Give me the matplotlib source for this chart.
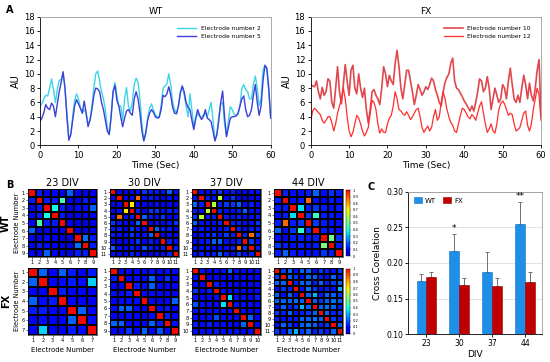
import matplotlib.pyplot as plt
import numpy as np
from matplotlib.colors import ListedColormap

# ---- panel A: electrode traces, sampled every 0.5 s ----
time = np.arange(0, 60.5, 0.5)
wt_e2 = [5.5, 5.8, 6.5, 7.0, 6.9, 8.0, 9.3, 7.8, 6.0, 7.8,
         9.1, 9.2, 10.1, 8.0, 4.5, 0.9, 1.5, 4.0, 6.3, 7.2,
         6.5, 5.3, 4.5, 5.0, 4.5, 3.0, 3.5, 5.5, 8.0, 10.0,
         10.4, 9.0, 7.5, 6.5, 5.0, 2.5, 1.5, 4.0, 7.5, 8.8,
         7.0, 5.5, 5.5, 3.5, 6.5, 8.1, 5.5, 4.8, 6.0, 8.5,
         9.4, 8.8, 6.5, 3.0, 0.7, 1.5, 3.8, 5.2, 5.8, 5.0,
         4.2, 4.0, 4.0, 5.5, 8.0, 8.3, 8.6, 10.0, 8.5, 6.0,
         5.0, 4.5, 5.5, 7.5, 8.3, 7.0, 5.5, 4.0, 7.2, 5.0,
         2.5, 3.8, 4.5, 4.0, 4.0, 4.2, 4.5, 4.0, 5.0, 6.0,
         3.5, 0.8, 1.5, 4.0, 5.8, 6.0, 3.0, 1.3, 3.5, 5.4,
         5.0, 4.3, 4.2, 4.3, 5.5, 8.0, 8.5, 7.8, 7.5, 6.5,
         6.5, 8.5, 9.7, 8.0, 5.5, 6.5, 10.5, 11.2, 10.5, 7.5,
         3.8]
wt_e5 = [3.4, 3.8, 4.6, 5.7, 5.2, 5.0, 5.9, 5.5, 4.0, 5.8,
         7.5, 8.8, 10.3, 8.0, 4.0, 0.7, 1.5, 3.5, 5.5, 6.4,
         5.8, 5.2, 4.5, 6.2, 4.5, 2.6, 3.5, 5.0, 7.0, 8.0,
         7.9, 7.5, 6.0, 5.0, 3.5, 2.0, 1.5, 4.0, 7.5, 8.4,
         6.3, 5.5, 4.0, 2.6, 3.8, 4.8, 5.0, 4.5, 4.2, 6.5,
         7.5, 6.5, 4.5, 2.0, 0.6, 1.8, 3.5, 4.5, 5.0, 4.6,
         4.0, 3.8, 3.9, 5.0, 7.0, 6.8, 7.2, 8.2, 7.0, 5.3,
         4.5, 4.4, 5.5, 7.3, 8.3, 7.5, 6.0, 5.3, 5.0, 3.5,
         2.2, 3.8, 5.0, 4.2, 3.6, 4.0, 5.0, 3.8, 3.6, 3.3,
         2.0, 0.6, 1.5, 3.5, 6.0, 7.6, 4.0, 1.2, 2.5, 3.8,
         4.0, 4.0, 4.1, 4.5, 5.5, 6.5, 6.9, 5.0, 4.0, 4.2,
         5.0, 7.0, 8.5, 6.0, 4.2, 5.5, 9.0, 11.2, 10.8, 8.0,
         3.8]
fx_e10 = [8.5, 8.3, 8.2, 9.0, 7.5, 6.5, 8.1, 7.0, 7.5, 9.3,
          9.0, 6.0, 5.2, 8.0, 11.0, 7.5, 5.8, 8.5, 11.3, 9.0,
          7.0, 10.5, 11.2, 8.0, 7.2, 10.0, 8.0, 6.7, 8.0, 5.0,
          3.1, 5.0, 7.5, 7.8, 7.0, 6.5, 5.7, 8.0, 11.0, 10.0,
          8.2, 9.8, 9.0, 8.5, 11.5, 13.3, 11.0, 8.0, 6.5, 8.5,
          10.5, 10.5, 9.0, 7.5, 5.7, 7.0, 8.5, 7.8, 7.0, 7.5,
          8.2, 7.8, 8.5, 9.4, 9.0, 7.8, 7.0, 6.0, 5.5, 7.5,
          8.8, 9.5, 10.0, 11.5, 12.2, 9.0, 8.0, 7.8, 7.3, 6.8,
          6.2, 5.8, 5.3, 4.8, 5.5, 4.8, 6.0, 7.5, 9.3, 9.0,
          7.5, 8.0, 9.6, 8.0, 5.0, 6.5, 8.0, 7.0, 6.0, 6.5,
          8.5, 8.0, 6.5, 9.0, 10.8, 8.5, 6.5, 6.0, 7.0, 6.0,
          8.0, 9.8, 8.5, 6.5, 8.7, 7.0, 6.2, 8.0, 10.5, 12.0,
          4.0]
fx_e12 = [3.3, 4.8, 5.2, 4.9, 4.6, 4.3, 3.5, 3.1, 3.5, 4.0,
          4.0, 3.2, 2.0, 3.0, 4.5, 5.5, 6.5, 8.0, 6.5, 4.0,
          2.0, 1.2, 1.8, 3.0, 4.2, 3.8, 3.0, 2.0, 1.3, 1.8,
          2.5, 4.5, 6.3, 6.0, 5.0, 3.0, 1.7, 2.3, 1.8, 1.8,
          3.0, 3.8, 4.2, 5.5, 7.5, 6.5, 5.0, 4.8, 4.4, 4.2,
          4.7, 4.2, 3.6, 4.0, 4.5, 5.0, 5.2, 4.0, 2.5, 1.8,
          2.3, 2.7, 2.0, 2.5, 4.0, 5.0, 3.5, 4.0, 6.0, 7.5,
          6.5, 5.0, 4.0, 3.2, 2.8, 2.0, 1.8, 3.0, 4.2, 5.2,
          5.0, 4.5, 4.0, 3.7, 4.3, 4.0, 3.5, 4.5, 5.5, 6.1,
          4.5, 3.0, 1.8, 2.3, 3.0, 2.0, 1.7, 3.0, 5.0, 5.8,
          6.2, 5.8, 5.0, 4.2, 4.5, 4.3, 3.0, 2.0, 2.2, 2.5,
          3.5, 4.5, 4.8, 2.8, 2.0, 3.0, 5.0, 6.5, 8.0, 7.0,
          3.5]

# ---- panel B: cross-correlation matrices ----
div_labels = ['23 DIV', '30 DIV', '37 DIV', '44 DIV']
wt_23 = [[1, .12, .06, .08, .08, .2, .06, .06, .06],
         [.12, 1, .12, .12, .45, .05, .05, .12, .06],
         [.06, .12, 1, .38, .12, .04, .1, .1, .2],
         [.08, .12, .38, 1, .12, .05, .06, .06, .06],
         [.08, .45, .12, .12, 1, .06, .05, .05, .05],
         [.2, .05, .04, .05, .06, 1, .05, .05, .05],
         [.06, .05, .1, .06, .05, .05, 1, .22, .12],
         [.06, .12, .1, .06, .05, .05, .22, 1, .12],
         [.06, .06, .2, .06, .05, .05, .12, .12, 1]]
wt_30 = [[1, .08, .06, .08, .1, .15, .12, .12, .1, .2, .1],
         [.08, 1, .08, .1, .88, .1, .12, .1, .05, .1, .06],
         [.06, .08, 1, .72, .1, .08, .06, .1, .06, .08, .06],
         [.08, .1, .72, 1, .12, .06, .15, .15, .1, .12, .12],
         [.1, .88, .1, .12, 1, .2, .12, .1, .15, .08, .1],
         [.15, .1, .08, .06, .2, 1, .06, .1, .08, .1, .15],
         [.12, .12, .06, .15, .12, .06, 1, .2, .12, .12, .06],
         [.12, .1, .1, .15, .1, .1, .2, 1, .08, .1, .08],
         [.1, .05, .06, .1, .15, .08, .12, .08, 1, .12, .1],
         [.2, .1, .08, .12, .08, .18, .12, .1, .12, 1, .12],
         [.1, .06, .06, .12, .1, .05, .06, .08, .1, .12, 1]]
wt_37 = [[1, .1, .08, .12, .15, .08, .12, .06, .08, .1, .1],
         [.1, 1, .12, .1, .62, .08, .15, .06, .05, .06, .08],
         [.2, .12, 1, .62, .12, .15, .15, .2, .1, .12, .08],
         [.12, .1, .62, 1, .12, .1, .1, .12, .2, .1, .1],
         [.15, .62, .12, .12, 1, .12, .1, .12, .1, .1, .12],
         [.2, .1, .1, .1, .12, 1, .12, .12, .1, .1, .15],
         [.1, .12, .1, .1, .1, .12, 1, .12, .1, .12, .12],
         [.08, .1, .12, .15, .1, .15, .12, 1, .12, .88, .15],
         [.08, .1, .12, .2, .2, .1, .1, .12, 1, .15, .1],
         [.1, .1, .12, .1, .1, .1, .12, .88, .15, 1, .12],
         [.1, .12, .1, .12, .2, .12, .1, .15, .1, .12, 1]]
wt_44 = [[1, .12, .1, .1, .12, .2, .1, .15, .12],
         [.12, 1, .1, .12, .88, .1, .06, .12, .1],
         [.12, .12, 1, .35, .12, .15, .12, .1, .12],
         [.1, .12, .35, 1, .15, .42, .12, .12, .1],
         [.12, .88, .12, .15, 1, .15, .12, .1, .1],
         [.2, .1, .15, .42, .15, 1, .12, .12, .1],
         [.1, .06, .12, .12, .12, .12, 1, .52, .15],
         [.15, .12, .1, .12, .1, .12, .52, 1, .12],
         [.12, .2, .12, .1, .1, .1, .15, .12, 1]]
fx_23 = [[1, .2, .08, .2, .12, .06, .12],
         [.2, 1, .08, .1, .12, .1, .33],
         [.08, .08, 1, .12, .08, .08, .06],
         [.2, .1, .12, 1, .08, .08, .06],
         [.12, .12, .08, .08, 1, .2, .08],
         [.06, .1, .08, .08, .2, 1, .1],
         [.08, .33, .06, .06, .12, .1, 1]]
fx_30 = [[1, .08, .08, .08, .08, .1, .08, .1, .08],
         [.12, 1, .08, .1, .1, .2, .08, .15, .08],
         [.08, .08, 1, .12, .1, .2, .08, .08, .08],
         [.1, .1, .12, 1, .1, .1, .08, .08, .06],
         [.08, .1, .1, .1, 1, .08, .06, .08, .2],
         [.1, .2, .2, .1, .08, 1, .1, .12, .08],
         [.08, .06, .1, .08, .06, .1, 1, .12, .08],
         [.2, .2, .08, .08, .08, .2, .12, 1, .1],
         [.08, .08, .15, .06, .2, .08, .18, .1, 1]]
fx_37 = [[1, .1, .08, .08, .1, .2, .1, .08, .1, .1],
         [.1, 1, .08, .08, .08, .1, .1, .08, .1, .08],
         [.1, .08, 1, .12, .08, .1, .08, .08, .08, .08],
         [.15, .08, .12, 1, .1, .08, .1, .1, .08, .1],
         [.1, .08, .08, .1, 1, .35, .1, .1, .08, .12],
         [.18, .1, .1, .08, .35, 1, .1, .1, .1, .08],
         [.1, .1, .08, .1, .1, .1, 1, .1, .08, .08],
         [.1, .08, .1, .18, .1, .1, .1, 1, .2, .08],
         [.12, .1, .12, .1, .1, .1, .08, .2, 1, .1],
         [.1, .1, .1, .12, .1, .1, .1, .08, .1, 1]]
fx_44 = [[1, .15, .2, .1, .2, .2, .1, .15, .12, .1, .15],
         [.15, 1, .2, .15, .1, .2, .2, .12, .1, .2, .12],
         [.2, .2, 1, .12, .2, .2, .12, .2, .12, .15, .2],
         [.1, .15, .12, 1, .1, .22, .15, .1, .12, .1, .3],
         [.2, .1, .2, .1, 1, .2, .3, .12, .2, .2, .15],
         [.2, .2, .2, .22, .2, 1, .2, .15, .2, .22, .2],
         [.1, .2, .12, .15, .3, .2, 1, .2, .22, .2, .12],
         [.15, .12, .2, .1, .12, .15, .2, 1, .2, .12, .15],
         [.12, .1, .12, .12, .2, .2, .22, .2, 1, .15, .12],
         [.1, .2, .15, .1, .2, .22, .2, .12, .15, 1, .2],
         [.15, .12, .2, .3, .15, .2, .12, .15, .12, .2, 1]]

# ---- panel C: mean cross correlation ----
div = ['23', '30', '37', '44']
wt_mean = [0.175, 0.217, 0.187, 0.254]
wt_err = [0.010, 0.024, 0.029, 0.032]
fx_mean = [0.181, 0.169, 0.168, 0.174]
fx_err = [0.006, 0.010, 0.011, 0.013]
stars = ['', '*', '', '**']

W, H = 550, 362
fig = plt.figure(figsize=(5.5, 3.62), dpi=100)


def px_axes(left, top, w, h):
    return fig.add_axes([left / W, 1 - (top + h) / H, w / W, h / H])


def style_box(ax):
    for s in ['top', 'right']:
        ax.spines[s].set_color('#9a9a9a')
    for s in ax.spines.values():
        s.set_linewidth(0.6)


# panel A
axw = px_axes(40, 16.7, 230.7, 128.6)
axf = px_axes(310.7, 16.7, 230.3, 128.6)
axw.plot(time, wt_e2, color='#3DD5E8', lw=1.0, label='Electrode number 2')
axw.plot(time, wt_e5, color='#3F3FD8', lw=1.0, label='Electrode number 5')
axf.plot(time, fx_e10, color='#E0484E', lw=1.2, label='Electrode number 10')
axf.plot(time, fx_e12, color='#FF2E2E', lw=0.9, label='Electrode number 12')
for ax, title in [(axw, 'WT'), (axf, 'FX')]:
    ax.set_xlim(0, 60)
    ax.set_ylim(0, 18)
    ax.set_xticks(range(0, 61, 10))
    ax.set_yticks(range(0, 19, 2))
    ax.set_title(title, fontsize=6.5, pad=2)
    ax.set_xlabel('Time (Sec)', fontsize=6.5, labelpad=1)
    ax.set_ylabel('AU', fontsize=7, labelpad=2)
    style_box(ax)
    ax.tick_params(direction='out', length=2.5, width=0.6, labelsize=6, pad=1.5)
    ax.legend(loc='upper right', bbox_to_anchor=(0.98, 0.97), frameon=False,
              fontsize=4.3, handlelength=3.2, labelspacing=0.5)

# panel B
cmap = ListedColormap(plt.get_cmap('jet')(np.linspace(0.05, 0.9, 256)))
lefts = [28, 110, 192, 274]
rows = [(189, 68, [wt_23, wt_30, wt_37, wt_44], 'WT'),
        (267.5, 67, [fx_23, fx_30, fx_37, fx_44], 'FX')]
for r, (top, h, mats, group) in enumerate(rows):
    for c, m in enumerate(mats):
        m = np.array(m)
        n = m.shape[0]
        ax = px_axes(lefts[c], top, 69, h)
        mesh = ax.pcolormesh(np.arange(n + 1) + 0.5, np.arange(n + 1) + 0.5, m,
                             cmap=cmap, vmin=0, vmax=1,
                             edgecolors='#000000', linewidth=0.2)
        ax.set_xlim(0.5, n + 0.5)
        ax.set_ylim(n + 0.5, 0.5)
        ax.set_xticks(range(1, n + 1))
        ax.set_yticks(range(1, n + 1))
        ax.tick_params(labelsize=3.6, length=1.2, width=0.4, pad=1)
        for s in ax.spines.values():
            s.set_linewidth(0.4)
        if r == 0:
            ax.set_title(div_labels[c], fontsize=7, pad=2)
        else:
            ax.set_xlabel('Electrode Number', fontsize=5, labelpad=3)
        if c == 0:
            ax.set_ylabel('Electrode Number', fontsize=4.8, labelpad=1)
            fig.text(6 / W, 1 - (top + h / 2) / H, group, fontsize=7,
                     fontweight='bold', rotation=90, ha='center', va='center')
        if c == 3:
            cax = px_axes(345.5, top + 1, 4.5, h - 2)
            cb = fig.colorbar(mesh, cax=cax, ticks=np.arange(0, 1.01, 0.1))
            cb.ax.set_yticklabels(['0', '0.1', '0.2', '0.3', '0.4', '0.5',
                                   '0.6', '0.7', '0.8', '0.9', '1'])
            cb.ax.tick_params(labelsize=2.6, length=1, width=0.3, pad=1)
            cb.outline.set_linewidth(0.3)

# panel C
axc = px_axes(408.3, 191.7, 133.4, 142.6)
x = np.arange(len(div))
bw = 0.3
axc.bar(x - bw / 2, wt_mean, bw, color='#1D8FE8', edgecolor='#1570b8',
        linewidth=0.4, label='WT', zorder=2)
axc.bar(x + bw / 2, fx_mean, bw, color='#C00000', edgecolor='#900000',
        linewidth=0.4, label='FX', zorder=2)
axc.errorbar(x - bw / 2, wt_mean, yerr=[np.zeros(4), wt_err], fmt='none',
             ecolor='#707070', elinewidth=0.7, capsize=1.5, capthick=0.7, zorder=1)
axc.errorbar(x + bw / 2, fx_mean, yerr=[np.zeros(4), fx_err], fmt='none',
             ecolor='#707070', elinewidth=0.7, capsize=1.5, capthick=0.7, zorder=1)
for i, s in enumerate(stars):
    if s:
        axc.text(x[i] - bw / 2, wt_mean[i] + wt_err[i] + 0.007, s,
                 ha='center', va='center', fontsize=6.5)
axc.set_ylim(0.10, 0.30)
axc.set_xlim(-0.55, 3.5)
axc.set_xticks(x)
axc.set_xticklabels(div)
axc.set_yticks([0.10, 0.15, 0.20, 0.25, 0.30])
axc.set_yticklabels(['0.10', '0.15', '0.20', '0.25', '0.30'])
axc.yaxis.grid(True, color='#dddddd', linewidth=0.6, zorder=0)
axc.set_axisbelow(True)
axc.set_ylabel('Cross Corelation', fontsize=6.5, labelpad=3)
axc.set_xlabel('DIV', fontsize=6.5, labelpad=1)
style_box(axc)
axc.tick_params(direction='out', length=2, width=0.6, labelsize=5.5, pad=1.5)
axc.legend(loc='upper left', ncol=2, frameon=False, fontsize=5,
           handlelength=1.2, handleheight=1.0, columnspacing=1.0,
           handletextpad=0.4, borderaxespad=0.4)

# panel letters
for letter, (px, py) in {'A': (6, 10), 'B': (6, 185), 'C': (367, 187)}.items():
    fig.text(px / W, 1 - py / H, letter, fontsize=7, fontweight='bold',
             ha='left', va='center')

fig.savefig('out.png', dpi=100)
plt.close(fig)
